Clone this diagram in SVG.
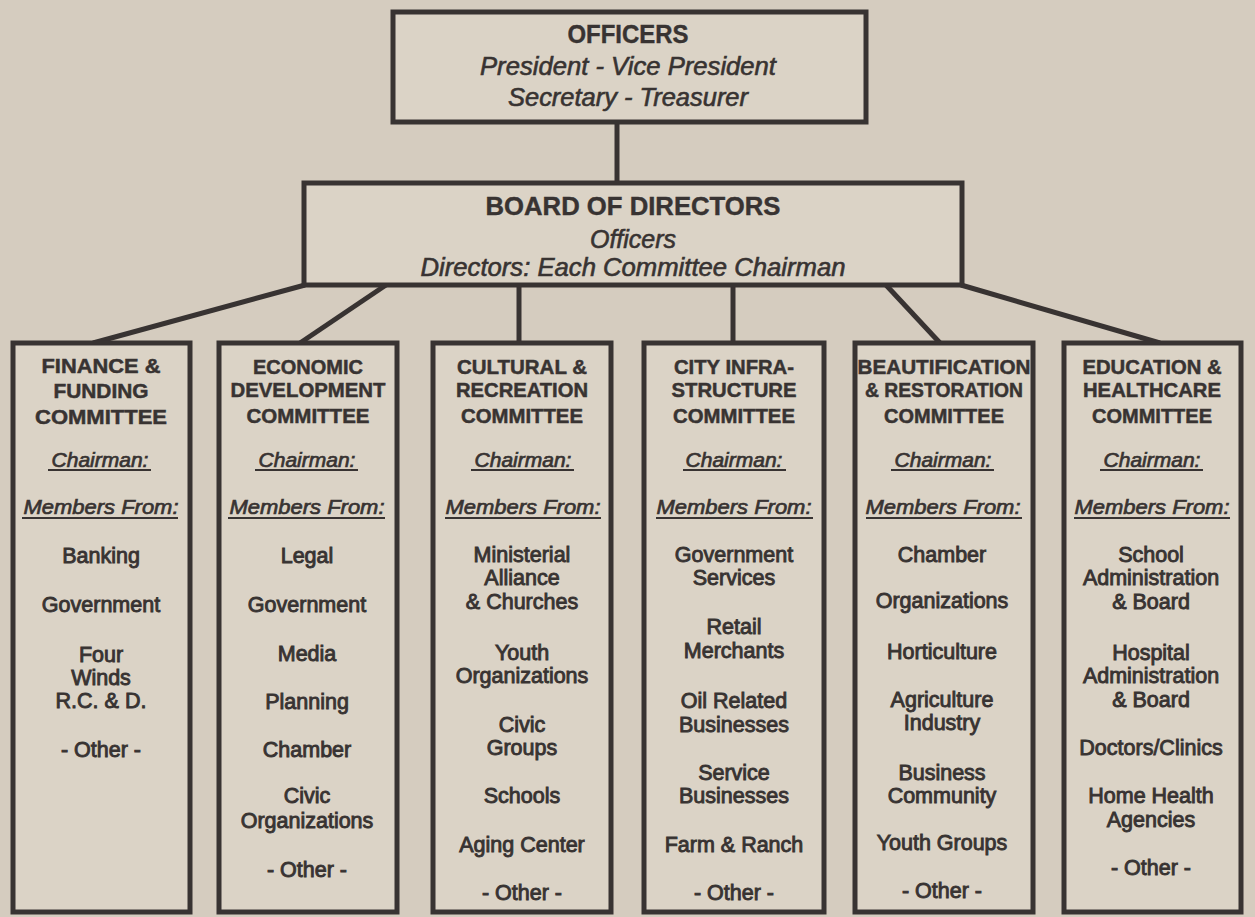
<svg xmlns="http://www.w3.org/2000/svg" width="1255" height="917" viewBox="0 0 1255 917">
<style>
.bg{fill:#d5ccbf}
.box{fill:#dbd3c6;stroke:#383332;stroke-width:5}
.con{stroke:#383332;stroke-width:5;fill:none;stroke-linecap:butt}
text{font-family:"Liberation Sans",Arial,Helvetica,sans-serif;fill:#383332;text-anchor:middle}
.h{font-weight:bold;font-size:25px;stroke:#383332;stroke-width:0.4}
.hi{font-style:italic;font-size:25px;stroke:#383332;stroke-width:0.6}
.t{font-weight:bold;font-size:21px;stroke:#383332;stroke-width:0.5}
.lab{font-style:italic;font-size:21px;stroke:#383332;stroke-width:0.7}
.it{font-size:21.5px;stroke:#383332;stroke-width:0.9}
.ul{stroke:#383332;stroke-width:2}
</style>
<rect class="bg" x="0" y="0" width="1255" height="917"/>

<g id="connectors">
<line class="con" x1="617" y1="122" x2="617" y2="183"/>
<line class="con" x1="305" y1="285" x2="93" y2="343"/>
<line class="con" x1="386" y1="285" x2="300" y2="343"/>
<line class="con" x1="519" y1="285" x2="519" y2="343"/>
<line class="con" x1="733" y1="285" x2="733" y2="343"/>
<line class="con" x1="886" y1="285" x2="940" y2="343"/>
<line class="con" x1="961" y1="285" x2="1160" y2="343"/>
</g>

<g id="officers">
<rect class="box" x="393" y="12" width="473" height="110"/>
<text class="h" x="628" y="43" textLength="121" lengthAdjust="spacingAndGlyphs">OFFICERS</text>
<text class="hi" x="628" y="75" textLength="296" lengthAdjust="spacingAndGlyphs">President - Vice President</text>
<text class="hi" x="628" y="106" textLength="240" lengthAdjust="spacingAndGlyphs">Secretary - Treasurer</text>
</g>

<g id="board">
<rect class="box" x="304" y="183" width="658" height="102"/>
<text class="h" x="633" y="215" textLength="295" lengthAdjust="spacingAndGlyphs">BOARD OF DIRECTORS</text>
<text class="hi" x="633" y="248">Officers</text>
<text class="hi" x="633" y="276" textLength="425" lengthAdjust="spacingAndGlyphs">Directors: Each Committee Chairman</text>
</g>

<g id="finance">
<rect class="box" x="13" y="343" width="177" height="569"/>
<text class="t" x="101" y="373" textLength="119" lengthAdjust="spacingAndGlyphs">FINANCE &amp;</text>
<text class="t" x="101" y="398" textLength="95" lengthAdjust="spacingAndGlyphs">FUNDING</text>
<text class="t" x="101" y="424" textLength="132" lengthAdjust="spacingAndGlyphs">COMMITTEE</text>
<text class="lab" x="100" y="467">Chairman:</text>
<line class="ul" x1="48" y1="470" x2="151" y2="470"/>
<text class="lab" x="101" y="514" textLength="155" lengthAdjust="spacingAndGlyphs">Members From:</text>
<line class="ul" x1="22" y1="518" x2="178" y2="518"/>
<text class="it" x="101" y="563">Banking</text>
<text class="it" x="101" y="612">Government</text>
<text class="it" x="101" y="662">Four</text>
<text class="it" x="101" y="685">Winds</text>
<text class="it" x="101" y="708">R.C. &amp; D.</text>
<text class="it" x="101" y="757">- Other -</text>
</g>

<g id="economic">
<rect class="box" x="219" y="343" width="178" height="569"/>
<text class="t" x="308" y="374" textLength="110" lengthAdjust="spacingAndGlyphs">ECONOMIC</text>
<text class="t" x="308" y="397" textLength="155" lengthAdjust="spacingAndGlyphs">DEVELOPMENT</text>
<text class="t" x="308" y="423" textLength="123" lengthAdjust="spacingAndGlyphs">COMMITTEE</text>
<text class="lab" x="307" y="467">Chairman:</text>
<line class="ul" x1="255" y1="470" x2="358" y2="470"/>
<text class="lab" x="307" y="514" textLength="155" lengthAdjust="spacingAndGlyphs">Members From:</text>
<line class="ul" x1="228" y1="518" x2="385" y2="518"/>
<text class="it" x="307" y="563">Legal</text>
<text class="it" x="307" y="612">Government</text>
<text class="it" x="307" y="661">Media</text>
<text class="it" x="307" y="709">Planning</text>
<text class="it" x="307" y="757">Chamber</text>
<text class="it" x="307" y="803">Civic</text>
<text class="it" x="307" y="828">Organizations</text>
<text class="it" x="307" y="877">- Other -</text>
</g>

<g id="cultural">
<rect class="box" x="433" y="343" width="178" height="569"/>
<text class="t" x="522" y="374" textLength="130" lengthAdjust="spacingAndGlyphs">CULTURAL &amp;</text>
<text class="t" x="522" y="397" textLength="132" lengthAdjust="spacingAndGlyphs">RECREATION</text>
<text class="t" x="522" y="423" textLength="122" lengthAdjust="spacingAndGlyphs">COMMITTEE</text>
<text class="lab" x="523" y="467">Chairman:</text>
<line class="ul" x1="471" y1="470" x2="574" y2="470"/>
<text class="lab" x="523" y="514" textLength="155" lengthAdjust="spacingAndGlyphs">Members From:</text>
<line class="ul" x1="445" y1="518" x2="601" y2="518"/>
<text class="it" x="522" y="562">Ministerial</text>
<text class="it" x="522" y="585">Alliance</text>
<text class="it" x="522" y="609">&amp; Churches</text>
<text class="it" x="522" y="660">Youth</text>
<text class="it" x="522" y="683">Organizations</text>
<text class="it" x="522" y="732">Civic</text>
<text class="it" x="522" y="755">Groups</text>
<text class="it" x="522" y="803">Schools</text>
<text class="it" x="522" y="852">Aging Center</text>
<text class="it" x="522" y="900">- Other -</text>
</g>

<g id="infrastructure">
<rect class="box" x="644" y="343" width="180" height="569"/>
<text class="t" x="734" y="374" textLength="120" lengthAdjust="spacingAndGlyphs">CITY INFRA-</text>
<text class="t" x="734" y="397" textLength="125" lengthAdjust="spacingAndGlyphs">STRUCTURE</text>
<text class="t" x="734" y="423" textLength="122" lengthAdjust="spacingAndGlyphs">COMMITTEE</text>
<text class="lab" x="734" y="467">Chairman:</text>
<line class="ul" x1="683" y1="470" x2="786" y2="470"/>
<text class="lab" x="734" y="514" textLength="155" lengthAdjust="spacingAndGlyphs">Members From:</text>
<line class="ul" x1="656" y1="518" x2="813" y2="518"/>
<text class="it" x="734" y="562">Government</text>
<text class="it" x="734" y="585">Services</text>
<text class="it" x="734" y="634">Retail</text>
<text class="it" x="734" y="658">Merchants</text>
<text class="it" x="734" y="708">Oil Related</text>
<text class="it" x="734" y="732">Businesses</text>
<text class="it" x="734" y="780">Service</text>
<text class="it" x="734" y="803">Businesses</text>
<text class="it" x="734" y="852">Farm &amp; Ranch</text>
<text class="it" x="734" y="900">- Other -</text>
</g>

<g id="beautification">
<rect class="box" x="855" y="343" width="178" height="569"/>
<text class="t" x="944" y="374" textLength="173" lengthAdjust="spacingAndGlyphs">BEAUTIFICATION</text>
<text class="t" x="944" y="397" textLength="158" lengthAdjust="spacingAndGlyphs">&amp; RESTORATION</text>
<text class="t" x="944" y="423" textLength="120" lengthAdjust="spacingAndGlyphs">COMMITTEE</text>
<text class="lab" x="943" y="467">Chairman:</text>
<line class="ul" x1="891" y1="470" x2="994" y2="470"/>
<text class="lab" x="943" y="514" textLength="155" lengthAdjust="spacingAndGlyphs">Members From:</text>
<line class="ul" x1="866" y1="518" x2="1022" y2="518"/>
<text class="it" x="942" y="562">Chamber</text>
<text class="it" x="942" y="608">Organizations</text>
<text class="it" x="942" y="659">Horticulture</text>
<text class="it" x="942" y="707">Agriculture</text>
<text class="it" x="942" y="730">Industry</text>
<text class="it" x="942" y="780">Business</text>
<text class="it" x="942" y="803">Community</text>
<text class="it" x="942" y="850">Youth Groups</text>
<text class="it" x="942" y="898">- Other -</text>
</g>

<g id="education">
<rect class="box" x="1064" y="343" width="177" height="569"/>
<text class="t" x="1152" y="374" textLength="139" lengthAdjust="spacingAndGlyphs">EDUCATION &amp;</text>
<text class="t" x="1152" y="397" textLength="138" lengthAdjust="spacingAndGlyphs">HEALTHCARE</text>
<text class="t" x="1152" y="423" textLength="120" lengthAdjust="spacingAndGlyphs">COMMITTEE</text>
<text class="lab" x="1152" y="467">Chairman:</text>
<line class="ul" x1="1100" y1="470" x2="1203" y2="470"/>
<text class="lab" x="1152" y="514" textLength="155" lengthAdjust="spacingAndGlyphs">Members From:</text>
<line class="ul" x1="1074" y1="518" x2="1230" y2="518"/>
<text class="it" x="1151" y="562">School</text>
<text class="it" x="1151" y="585">Administration</text>
<text class="it" x="1151" y="609">&amp; Board</text>
<text class="it" x="1151" y="660">Hospital</text>
<text class="it" x="1151" y="683">Administration</text>
<text class="it" x="1151" y="707">&amp; Board</text>
<text class="it" x="1151" y="755">Doctors/Clinics</text>
<text class="it" x="1151" y="803">Home Health</text>
<text class="it" x="1151" y="827">Agencies</text>
<text class="it" x="1151" y="875">- Other -</text>
</g>
</svg>
